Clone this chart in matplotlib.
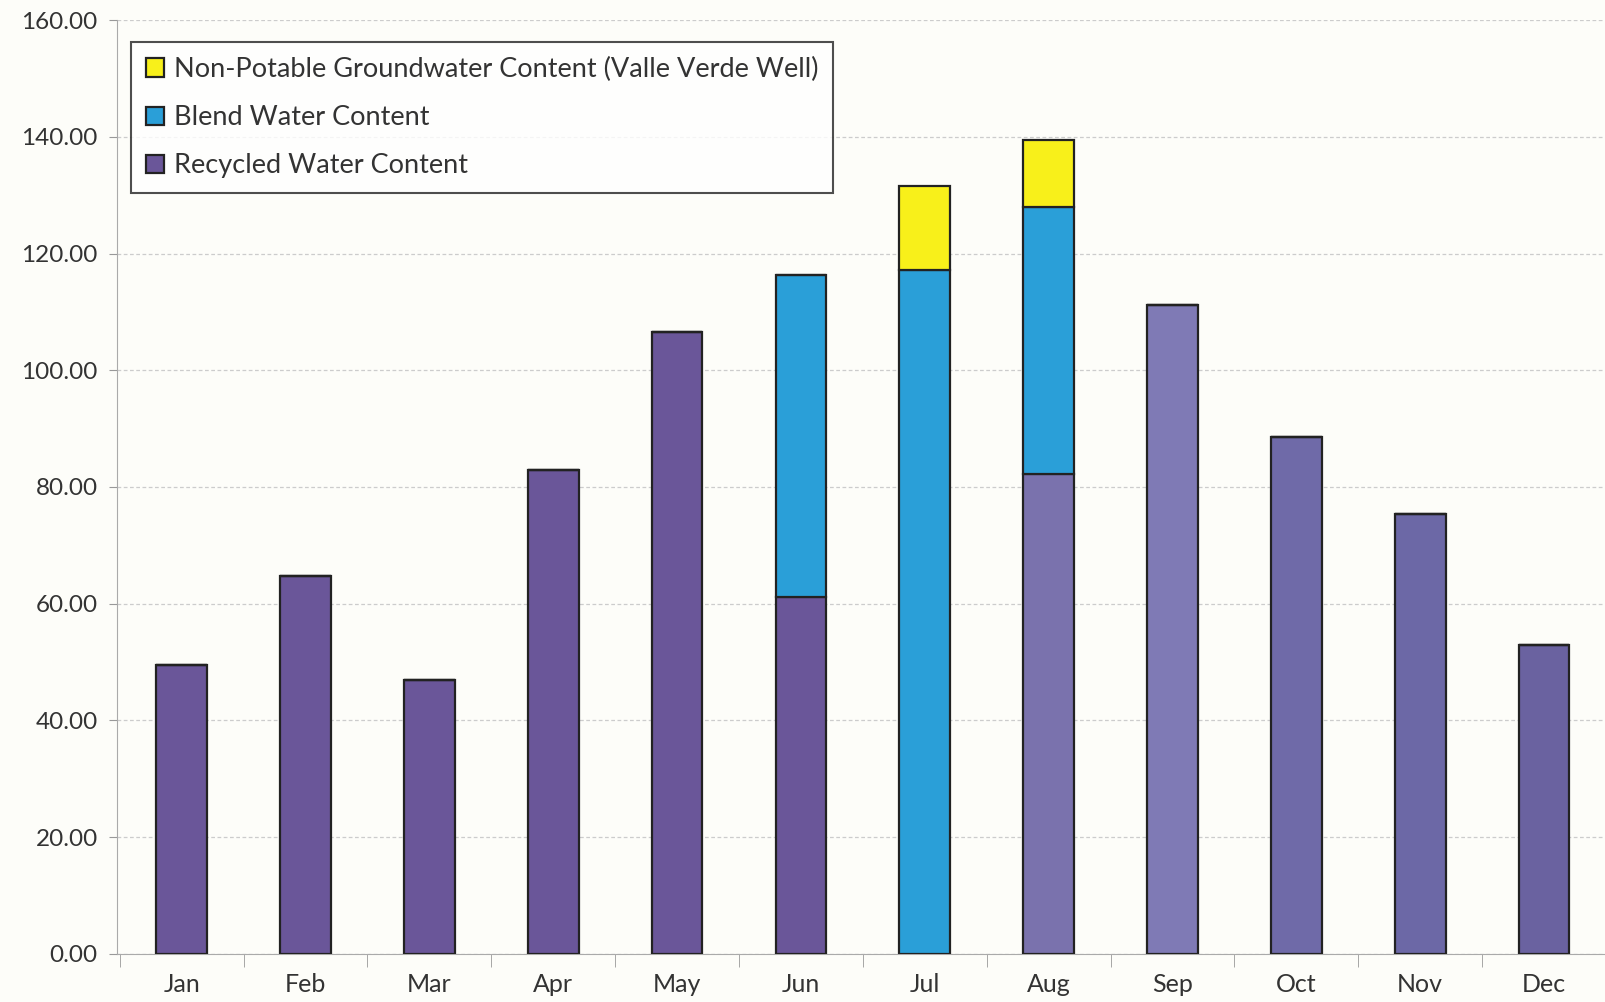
import numpy as np
import matplotlib.pyplot as plt

months = ['Jan', 'Feb', 'Mar', 'Apr', 'May', 'Jun', 'Jul', 'Aug', 'Sep', 'Oct', 'Nov', 'Dec']
recycled = [49.5, 64.7, 46.9, 82.9, 106.6, 61.2, 0.0, 82.3, 111.2, 88.6, 75.3, 53.0]
blend = [0.0, 0.0, 0.0, 0.0, 0.0, 55.1, 117.2, 45.7, 0.0, 0.0, 0.0, 0.0]
nonpotable = [0.0, 0.0, 0.0, 0.0, 0.0, 0.0, 14.4, 11.5, 0.0, 0.0, 0.0, 0.0]

plt.rcParams['font.family'] = ['Lato', 'DejaVu Sans']

fig = plt.figure(figsize=(16.06, 10.02), dpi=100, facecolor='#fdfdf9')
ax = fig.add_axes([0.073, 0.048, 0.927, 0.932])
ax.set_facecolor('#fdfdf9')

x = np.arange(len(months))
w = 0.41
rec = np.array(recycled)
bl = np.array(blend)
npw = np.array(nonpotable)

# per-bar tint of the recycled series (scan shows later months slightly bluer)
rec_colors = ['#6a5699'] * 7 + ['#7a72ad', '#7f7ab5', '#6f6aa8', '#6c68a6', '#6a62a0']
ax.bar(x, rec, w, color=rec_colors, edgecolor='#222222', linewidth=1.6,
       label='Recycled Water Content', zorder=3)
ax.bar(x, bl, w, bottom=rec, color='#2a9fd8', edgecolor='#222222', linewidth=1.6,
       label='Blend Water Content', zorder=3)
ax.bar(x, npw, w, bottom=rec + bl, color='#f8f01a', edgecolor='#222222', linewidth=1.6,
       label='Non-Potable Groundwater Content (Valle Verde Well)', zorder=3)

ax.set_ylim(0, 160)
ax.set_xlim(-0.52, 11.48)
ax.set_yticks(np.arange(0, 161, 20))
ax.set_yticklabels([f'{v:.2f}' for v in np.arange(0, 161, 20)])
ax.set_xticks(x)
ax.set_xticklabels(months)
ax.set_xticks(np.arange(-0.5, 11.6, 1), minor=True)
ax.tick_params(axis='x', which='major', length=0, pad=14, labelsize=18, labelcolor='#333333')
ax.tick_params(axis='x', which='minor', length=9, color='#999999', direction='out')
ax.tick_params(axis='y', length=6, color='#999999', labelsize=17.5, labelcolor='#333333', pad=8)

ax.yaxis.grid(True, color='#cccccc', linestyle=(0, (3, 2)), linewidth=0.9, zorder=0)
for s in ['top', 'right']:
    ax.spines[s].set_visible(False)
ax.spines['left'].set_color('#aaaaaa')
ax.spines['bottom'].set_color('#aaaaaa')

handles, labels = ax.get_legend_handles_labels()
leg = ax.legend(handles[::-1], labels[::-1], loc='upper left', bbox_to_anchor=(0.009, 0.976),
                borderaxespad=0, fontsize=19.5, frameon=True, fancybox=False, edgecolor='#222222',
                handlelength=0.7, handleheight=0.7, handletextpad=0.35, labelspacing=0.85,
                borderpad=0.55, labelcolor='#333333')
leg.get_frame().set_linewidth(1.5)
leg.get_frame().set_facecolor('white')

fig.savefig('out.png', dpi=100, facecolor=fig.get_facecolor())
